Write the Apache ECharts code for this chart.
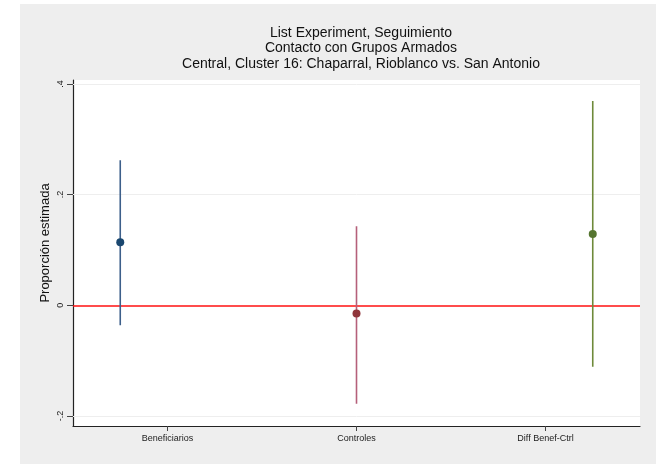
<!DOCTYPE html>
<html>
<head>
<meta charset="utf-8">
<script src="https://cdn.jsdelivr.net/npm/echarts@6/dist/echarts.min.js"></script>
<style>html,body{margin:0;padding:0;background:#fff}#c{width:662px;height:464px}</style>
</head>
<body>
<div id="c"></div>
<script>
const categories = ['Beneficiarios', 'Controles', 'Diff Benef-Ctrl'];
const positions = [1, 2, 3];
const labelPositions = [1.2, 2, 2.8];
const estimates = [0.114, -0.015, 0.129];
const lower = [-0.036, -0.178, -0.111];
const upper = [0.262, 0.143, 0.369];
const colors = ['#1a476f', '#90353b', '#55752f'];
const lineColors = ['#3d5f8a', '#b5607a', '#6e8a3a'];
const yTicks = [-0.2, 0, 0.2, 0.4];
const yTickLabels = ['-.2', '0', '.2', '.4'];
const gridValues = [-0.2, 0.2, 0.4];

const chart = echarts.init(document.getElementById('c'), null, {renderer: 'canvas'});
const font = 'Liberation Sans, Arial, sans-serif';

const series = [];
categories.forEach((c, i) => {
  series.push({
    type: 'line', name: c + ' CI',
    data: [[positions[i], lower[i]], [positions[i], upper[i]]],
    symbol: 'none', silent: true,
    lineStyle: {color: lineColors[i], width: 1.6},
    z: 3
  });
});
series.push({
  type: 'scatter', name: 'est',
  data: categories.map((c, i) => ({value: [positions[i], estimates[i]], itemStyle: {color: colors[i], opacity: 1}})),
  symbol: 'circle', symbolSize: 8, z: 5,
  itemStyle: {opacity: 1},
  markLine: {
    silent: true, symbol: 'none', label: {show: false},
    data: gridValues.map(v => ({yAxis: v, lineStyle: {color: '#eeeeee', width: 1, type: 'solid'}}))
      .concat([{yAxis: 0, lineStyle: {color: '#ff1010', width: 1.6, type: 'solid'}}]),
    z: 2
  }
});

chart.setOption({
  backgroundColor: '#ffffff',
  animation: false,
  graphic: [{
    type: 'rect', z: -10, silent: true,
    shape: {x: 20, y: 4, width: 636, height: 460},
    style: {fill: '#eeeeee'}
  }],
  title: {
    text: 'List Experiment, Seguimiento\nContacto con Grupos Armados\nCentral, Cluster 16: Chaparral, Rioblanco vs. San Antonio',
    left: 356, top: 20, textAlign: 'center',
    textStyle: {fontFamily: font, fontSize: 14, fontWeight: 'normal', color: '#111', lineHeight: 15.5}
  },
  grid: {
    left: 73, right: 22, top: 80, bottom: 38,
    show: true, backgroundColor: '#ffffff', borderWidth: 0
  },
  xAxis: {
    type: 'value', min: 0.8, max: 3.2,
    splitLine: {show: false},
    axisLine: {show: true, onZero: false, lineStyle: {color: '#222', width: 1.2}},
    axisTick: {show: true, length: 5, customValues: labelPositions, lineStyle: {color: '#444'}},
    axisLabel: {
      customValues: labelPositions, margin: 8,
      fontFamily: font, fontSize: 9, color: '#222',
      formatter: v => { const k = labelPositions.findIndex(p => Math.abs(p - v) < 1e-6); return k >= 0 ? categories[k] : ''; }
    }
  },
  yAxis: {
    type: 'value', min: -0.218, max: 0.407,
    name: 'Proporción estimada', nameLocation: 'middle', nameGap: 21, nameRotate: 90,
    nameMoveOverlap: false,
    nameTextStyle: {fontFamily: font, fontSize: 13, color: '#111', padding: [0, 0, 0, 20]},
    splitLine: {show: false},
    axisLine: {show: true, onZero: false, lineStyle: {color: '#222', width: 1.2}},
    axisTick: {show: true, length: 6, customValues: yTicks, lineStyle: {color: '#444'}},
    axisLabel: {
      customValues: yTicks, rotate: 90, margin: 8,
      fontFamily: font, fontSize: 9, color: '#222',
      formatter: v => { const k = yTicks.findIndex(p => Math.abs(p - v) < 1e-6); return k >= 0 ? yTickLabels[k] : ''; }
    }
  },
  series: series
});
</script>
</body>
</html>
